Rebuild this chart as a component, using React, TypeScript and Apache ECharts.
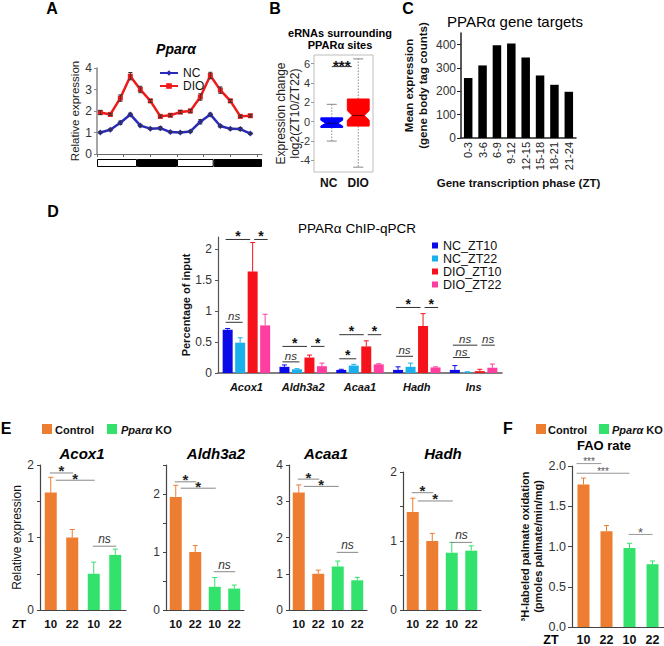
import React, { useEffect, useRef } from "react";
import * as echarts from "echarts";

const FONT = "'Liberation Sans', Arial, Helvetica, sans-serif";

// ---------------- Panel A : Pparα relative expression ----------------
const aHours = [1, 4, 7, 10, 13, 16, 19, 22, 25, 28, 31, 34, 37, 40, 43, 46];
const aNC = [1.0, 1.13, 1.45, 1.84, 1.32, 1.18, 1.2, 1.02, 1.0, 1.05, 1.5, 1.84, 1.3, 1.17, 1.16, 0.95];
const aNCErr = [0.03, 0.04, 0.08, 0.06, 0.05, 0.04, 0.07, 0.03, 0.03, 0.04, 0.1, 0.06, 0.05, 0.04, 0.07, 0.03];
const aDIO = [1.93, 1.84, 2.6, 3.62, 3.0, 2.47, 1.75, 1.8, 1.95, 2.0, 2.65, 3.65, 2.97, 2.47, 1.75, 1.78];
const aDIOErr = [0.1, 0.05, 0.15, 0.17, 0.15, 0.07, 0.06, 0.06, 0.07, 0.08, 0.15, 0.15, 0.15, 0.07, 0.05, 0.06];
const aXTicks = [0, 8, 16, 24, 32, 40, 48];
const aLightDark = [12, 12, 11, 14.5]; // light, dark, light, dark (hours)

// ---------------- Panel B : eRNA boxplots ----------------
const bCats = ["NC", "DIO"];
// [whisker low, Q1, median, Q3, whisker high]
const bNC = [-2.0, -0.6, -0.15, 0.4, 1.8];
const bDIO = [-4.7, -0.45, 0.65, 2.35, 6.5];
const bNotch = [0.3, 0.5];
const bTicks = [-4, -2, 0, 2, 4, 6];
const bSig = [{ from: 0, to: 1, y: 5.7, label: "***" }];

// ---------------- Panel C : PPARα gene targets ----------------
const cPhases = ["0-3", "3-6", "6-9", "9-12", "12-15", "15-18", "18-21", "21-24"];
const cMeans = [257, 311, 398, 405, 345, 268, 228, 198];
const cTicks = [0, 100, 200, 300, 400];

// ---------------- Panel D : ChIP-qPCR ----------------
const dGenes = ["Acox1", "Aldh3a2", "Acaa1", "Hadh", "Ins"];
const dGroups = ["NC_ZT10", "NC_ZT22", "DIO_ZT10", "DIO_ZT22"];
const dNC10 = [0.7, 0.1, 0.05, 0.05, 0.05];
const dNC10Err = [0.02, 0.03, 0.01, 0.05, 0.07];
const dNC22 = [0.49, 0.06, 0.12, 0.1, 0.01];
const dNC22Err = [0.08, 0.01, 0.02, 0.06, 0.01];
const dDIO10 = [1.64, 0.25, 0.43, 0.76, 0.03];
const dDIO10Err = [0.47, 0.04, 0.09, 0.2, 0.03];
const dDIO22 = [0.77, 0.11, 0.14, 0.09, 0.085];
const dDIO22Err = [0.18, 0.05, 0.01, 0.01, 0.06];
const dTicks = [0, 0.5, 1, 1.5, 2];
const dSig = [
  { gene: 0, from: 0, to: 2, y: 2.16, label: "*" },
  { gene: 0, from: 2, to: 3, y: 2.16, label: "*" },
  { gene: 0, from: 0, to: 1, y: 0.82, label: "ns" },
  { gene: 1, from: 0, to: 2, y: 0.43, label: "*" },
  { gene: 1, from: 2, to: 3, y: 0.43, label: "*" },
  { gene: 1, from: 0, to: 1, y: 0.18, label: "ns" },
  { gene: 2, from: 0, to: 2, y: 0.62, label: "*" },
  { gene: 2, from: 2, to: 3, y: 0.62, label: "*" },
  { gene: 2, from: 0, to: 1, y: 0.23, label: "*" },
  { gene: 3, from: 0, to: 2, y: 1.06, label: "*" },
  { gene: 3, from: 2, to: 3, y: 1.06, label: "*" },
  { gene: 3, from: 0, to: 1, y: 0.27, label: "ns" },
  { gene: 4, from: 0, to: 2, y: 0.45, label: "ns" },
  { gene: 4, from: 2, to: 3, y: 0.45, label: "ns" },
  { gene: 4, from: 0, to: 1, y: 0.25, label: "ns" },
];

// ---------------- Panel E : liver gene expression ----------------
const eZT = ["10", "22", "10", "22"];
const eGenotype = ["Control", "Control", "KO", "KO"];
const eGenes = ["Acox1", "Aldh3a2", "Acaa1", "Hadh"];
const eAcox1 = [1.62, 1.0, 0.5, 0.76];
const eAcox1Err = [0.21, 0.11, 0.16, 0.08];
const eAldh3a2 = [1.95, 1.0, 0.4, 0.37];
const eAldh3a2Err = [0.2, 0.11, 0.16, 0.06];
const eAcaa1 = [3.24, 1.0, 1.2, 0.82];
const eAcaa1Err = [0.21, 0.1, 0.15, 0.08];
const eHadh = [1.42, 1.0, 0.83, 0.86];
const eHadhErr = [0.2, 0.11, 0.15, 0.07];
const eAxisMax = [2, 2.5, 4, 2];
const eTickValues = [
  [0, 0.5, 1, 1.5, 2],
  [0, 0.5, 1, 1.5, 2, 2.5],
  [0, 1, 2, 3, 4],
  [0, 0.5, 1, 1.5, 2],
];
const eLabelValues = [
  [0, 1, 2],
  [0, 1, 2],
  [0, 1, 2, 3, 4],
  [0, 1, 2],
];
const eSig = [
  [
    { from: 0, to: 1, y: 1.89, label: "*" },
    { from: 0, to: 2, y: 1.79, label: "*" },
    { from: 2, to: 3, y: 0.88, label: "ns" },
  ],
  [
    { from: 0, to: 1, y: 2.21, label: "*" },
    { from: 0, to: 2, y: 2.1, label: "*" },
    { from: 2, to: 3, y: 0.66, label: "ns" },
  ],
  [
    { from: 0, to: 1, y: 3.61, label: "*" },
    { from: 0, to: 2, y: 3.41, label: "*" },
    { from: 2, to: 3, y: 1.59, label: "ns" },
  ],
  [
    { from: 0, to: 1, y: 1.7, label: "*" },
    { from: 0, to: 2, y: 1.58, label: "*" },
    { from: 2, to: 3, y: 0.98, label: "ns" },
  ],
];

// ---------------- Panel F : FAO rate ----------------
const fZT = ["10", "22", "10", "22"];
const fFAO = [1.77, 1.19, 0.98, 0.78];
const fFAOErr = [0.08, 0.07, 0.06, 0.04];
const fSig = [
  { from: 0, to: 1, y: 2.03, label: "***" },
  { from: 0, to: 2, y: 1.91, label: "***" },
  { from: 2, to: 3, y: 1.15, label: "*" },
];

// ---------------- styling ----------------
const ORANGE = "#ed7d31";
const GREEN = "#33e26c";
const D_COLORS = ["#0b0be8", "#1ab0ec", "#f5121b", "#ff3ea0"];
const A_BLUE = "#2b2bbb";
const A_RED = "#f01a1a";
const D_BAR_W = 10;
const D_GAP = 2.5;

const dSlotOffset = (slot: number) => {
  const n = 4;
  const group = n * D_BAR_W + (n - 1) * D_GAP;
  return -group / 2 + slot * (D_BAR_W + D_GAP) + D_BAR_W / 2;
};

function line(x1: number, y1: number, x2: number, y2: number, stroke: string, lineWidth = 1, lineDash?: number[]) {
  return {
    type: "line",
    shape: { x1, y1, x2, y2 },
    style: { stroke, lineWidth, lineDash },
  };
}

function sigText(label: string, x: number, y: number, cfg: any) {
  const isNs = label === "ns";
  return {
    type: "text",
    x,
    y: isNs ? y - cfg.nsDy : y - cfg.starDy,
    style: {
      text: label,
      fill: isNs ? cfg.nsColor : cfg.starColor,
      fontFamily: FONT,
      fontSize: isNs ? cfg.nsSize : label === "***" ? cfg.tripleSize : cfg.starSize,
      fontWeight: isNs ? "normal" : cfg.starWeight,
      fontStyle: isNs ? "italic" : "normal",
      align: "center",
      verticalAlign: "middle",
    },
  };
}

function errUpRender(color: string | ((i: number) => string), offsetFn?: (slot: number) => number) {
  return (params: any, api: any) => {
    const cat = api.value(0);
    const v = api.value(1);
    const e = api.value(2);
    const slot = api.value(3);
    const base = api.coord([cat, v]);
    const top = api.coord([cat, v + e]);
    const x = base[0] + (offsetFn ? offsetFn(slot) : 0);
    const c = typeof color === "function" ? color(params.dataIndex) : color;
    return {
      type: "group",
      children: [line(x, base[1], x, top[1], c, 1), line(x - 2.5, top[1], x + 2.5, top[1], c, 1)],
    };
  };
}

function errSymRender(color: string) {
  return (params: any, api: any) => {
    const x = api.value(0);
    const v = api.value(1);
    const e = api.value(2);
    const lo = api.coord([x, v - e]);
    const hi = api.coord([x, v + e]);
    return {
      type: "group",
      children: [
        line(lo[0], lo[1], hi[0], hi[1], color, 1),
        line(lo[0] - 2, lo[1], lo[0] + 2, lo[1], color, 1),
        line(hi[0] - 2, hi[1], hi[0] + 2, hi[1], color, 1),
      ],
    };
  };
}

function buildOption() {
  const grid: any[] = [
    { left: 97, top: 68, width: 165, height: 86 }, // 0 A
    { left: 97, top: 159, width: 165, height: 8 }, // 1 A light/dark
    { left: 314, top: 55, width: 59, height: 117, show: true, borderColor: "#bdbdbd", borderWidth: 1, backgroundColor: "rgba(0,0,0,0)" }, // 2 B
    { left: 461, top: 33, width: 115, height: 105 }, // 3 C
    { left: 218, top: 237, width: 284, height: 136 }, // 4 D
    { left: 40, top: 465, width: 86, height: 145 }, // 5 E1
    { left: 166, top: 465, width: 78, height: 145 }, // 6 E2
    { left: 289, top: 465, width: 78, height: 145 }, // 7 E3
    { left: 403, top: 472, width: 78, height: 138 }, // 8 E4
    { left: 572, top: 466, width: 92, height: 161 }, // 9 F
  ].map((g) => ({ ...g, containLabel: false, outerBoundsMode: "none" }));

  const tickLabel = { fontFamily: FONT, color: "#333" };

  const xAxis: any[] = [
    {
      gridIndex: 0, type: "value", min: 0, max: 49.5,
      axisLine: { lineStyle: { color: "#666", width: 1.2 } },
      axisTick: { show: true, customValues: aXTicks, length: 3, lineStyle: { color: "#666" } },
      axisLabel: { show: false }, splitLine: { show: false },
    },
    { gridIndex: 1, type: "value", min: 0, max: 49.5, show: false },
    {
      gridIndex: 2, type: "category", data: bCats,
      axisLine: { show: false }, axisTick: { show: false },
      axisLabel: { fontFamily: FONT, fontSize: 12, fontWeight: "bold", color: "#111", margin: 5 },
    },
    {
      gridIndex: 3, type: "category", data: cPhases,
      axisLine: { lineStyle: { color: "#222", width: 1.5 } }, axisTick: { show: false },
      axisLabel: { ...tickLabel, color: "#222", fontSize: 11, rotate: 90, margin: 4, interval: 0 },
      name: "Gene transcription phase (ZT)", nameLocation: "middle", nameGap: 39,
      nameTextStyle: { fontFamily: FONT, fontSize: 11.5, fontWeight: "bold", color: "#111" },
    },
    {
      gridIndex: 4, type: "category", data: dGenes,
      axisLine: { lineStyle: { color: "#555", width: 1.5 } }, axisTick: { show: false },
      axisLabel: { fontFamily: FONT, fontSize: 11, fontWeight: "bold", fontStyle: "italic", color: "#111", margin: 8 },
    },
  ];
  for (let k = 0; k < 4; k++) {
    xAxis.push({
      gridIndex: 5 + k, type: "category", data: eZT,
      axisLine: { lineStyle: { color: "#444", width: 1.2 } }, axisTick: { show: false },
      axisLabel: { fontFamily: FONT, fontSize: 11.5, fontWeight: "bold", color: "#111", margin: 8, interval: 0 },
    });
  }
  xAxis.push({
    gridIndex: 9, type: "category", data: fZT,
    axisLine: { lineStyle: { color: "#444", width: 1.2 } }, axisTick: { show: false },
    axisLabel: { fontFamily: FONT, fontSize: 12.5, fontWeight: "bold", color: "#111", margin: 6, interval: 0 },
  });

  const yAxis: any[] = [
    {
      gridIndex: 0, type: "value", min: 0, max: 4, interval: 1,
      axisLine: { show: true, lineStyle: { color: "#888", width: 1.5 } },
      axisTick: { show: true, length: 3, lineStyle: { color: "#888" } },
      axisLabel: { ...tickLabel, fontSize: 12, margin: 5 }, splitLine: { show: false },
      name: "Relative expression", nameLocation: "middle", nameGap: 14,
      nameTextStyle: { fontFamily: FONT, fontSize: 11.5, color: "#222" },
    },
    { gridIndex: 1, type: "category", data: ["LD"], show: false },
    {
      gridIndex: 2, type: "value", min: -5.2, max: 6.9,
      axisLine: { show: false },
      axisTick: { show: true, length: 3, customValues: bTicks, lineStyle: { color: "#999" } },
      axisLabel: { ...tickLabel, fontSize: 11, margin: 4, customValues: bTicks }, splitLine: { show: false },
      name: "Expression change\nlog2(ZT10/ZT22)", nameLocation: "middle", nameGap: 12.5, nameMoveOverlap: false,
      nameTextStyle: { fontFamily: FONT, fontSize: 12, lineHeight: 14, color: "#222" },
    },
    {
      gridIndex: 3, type: "value", min: 0, max: 450,
      axisLine: { show: true, lineStyle: { color: "#222", width: 1.5 } },
      axisTick: { show: true, length: 4, customValues: cTicks, lineStyle: { color: "#222" } },
      axisLabel: { ...tickLabel, fontSize: 12, margin: 5, customValues: cTicks }, splitLine: { show: false },
      name: "Mean expression\n(gene body tag counts)", nameLocation: "middle", nameGap: 31,
      nameTextStyle: { fontFamily: FONT, fontSize: 11.5, fontWeight: "bold", lineHeight: 14, color: "#111" },
    },
    {
      gridIndex: 4, type: "value", min: 0, max: 2.2,
      axisLine: { show: true, lineStyle: { color: "#555", width: 1.2 } },
      axisTick: { show: true, length: 3, customValues: dTicks, lineStyle: { color: "#555" } },
      axisLabel: { ...tickLabel, fontSize: 12, margin: 6, customValues: dTicks }, splitLine: { show: false },
      name: "Percentage of input", nameLocation: "middle", nameGap: 27,
      nameTextStyle: { fontFamily: FONT, fontSize: 11, fontWeight: "bold", color: "#111" },
    },
  ];
  for (let k = 0; k < 4; k++) {
    yAxis.push({
      gridIndex: 5 + k, type: "value", min: 0, max: eAxisMax[k],
      axisLine: { show: true, lineStyle: { color: "#444", width: 1.2 } },
      axisTick: { show: true, length: 3, customValues: eTickValues[k], lineStyle: { color: "#444" } },
      axisLabel: { ...tickLabel, fontSize: 12, margin: 6, customValues: eLabelValues[k] }, splitLine: { show: false },
      ...(k === 0
        ? {
            name: "Relative expression", nameLocation: "middle", nameGap: 17,
            nameTextStyle: { fontFamily: FONT, fontSize: 12, color: "#111" },
          }
        : {}),
    });
  }
  yAxis.push({
    gridIndex: 9, type: "value", min: 0, max: 2, interval: 0.5,
    axisLine: { show: true, lineStyle: { color: "#444", width: 1.2 } },
    axisTick: { show: true, length: 4, lineStyle: { color: "#444" } },
    axisLabel: { ...tickLabel, fontSize: 12.5, margin: 6, formatter: (v: number) => v.toFixed(1) }, splitLine: { show: false },
    name: "\u00B3H-labeled palmate oxidation\n(pmoles palmate/min/mg)", nameLocation: "middle", nameGap: 28, nameMoveOverlap: false,
    nameTextStyle: { fontFamily: FONT, fontSize: 11, fontWeight: "bold", lineHeight: 12.5, color: "#111" },
  });

  const series: any[] = [];

  // ---- A ----
  series.push({
    name: "NC", type: "line", xAxisIndex: 0, yAxisIndex: 0,
    data: aHours.map((h, i) => [h, aNC[i]]),
    symbol: "diamond", symbolSize: 6, color: A_BLUE,
    lineStyle: { width: 2.5, color: A_BLUE }, itemStyle: { color: A_BLUE }, z: 3,
  });
  series.push({
    name: "DIO", type: "line", xAxisIndex: 0, yAxisIndex: 0,
    data: aHours.map((h, i) => [h, aDIO[i]]),
    symbol: "rect", symbolSize: 5, color: A_RED,
    lineStyle: { width: 2.5, color: A_RED }, itemStyle: { color: A_RED }, z: 3,
  });
  series.push({
    name: "NC err", type: "custom", xAxisIndex: 0, yAxisIndex: 0, z: 4,
    data: aHours.map((h, i) => [h, aNC[i], aNCErr[i]]), encode: { x: 0, y: 1 },
    renderItem: errSymRender("#333"),
  });
  series.push({
    name: "DIO err", type: "custom", xAxisIndex: 0, yAxisIndex: 0, z: 4,
    data: aHours.map((h, i) => [h, aDIO[i], aDIOErr[i]]), encode: { x: 0, y: 1 },
    renderItem: errSymRender("#333"),
  });
  aLightDark.forEach((v, i) => {
    series.push({
      name: "LD" + i, type: "bar", stack: "ld", xAxisIndex: 1, yAxisIndex: 1,
      data: [v], barWidth: 8,
      itemStyle: { color: i % 2 === 0 ? "#fff" : "#000", borderColor: "#000", borderWidth: 1 },
    });
  });

  // ---- B ----
  const bBoxes = [bNC, bDIO];
  const bColors = ["#0000ff", "#ff0000"];
  const bMedColors = ["#000066", "#660000"];
  series.push({
    name: "eRNA box", type: "custom", xAxisIndex: 2, yAxisIndex: 2, z: 3,
    data: bBoxes.map((b, i) => [i, ...b, bNotch[i]]),
    encode: { x: 0, y: [1, 2, 3, 4, 5] },
    renderItem: (params: any, api: any) => {
      const i = params.dataIndex;
      const cat = api.value(0);
      const low = api.value(1), q1 = api.value(2), med = api.value(3), q3 = api.value(4), high = api.value(5), notch = api.value(6);
      const band = api.size([1, 0])[0];
      const hw = band * 0.37, nw = hw * 0.55, cw = band * 0.17;
      const c = (v: number) => api.coord([cat, v]);
      const x = c(med)[0] + (i === 0 ? 3 : 0);
      const yLow = c(low)[1], yQ1 = c(q1)[1], yMed = c(med)[1], yQ3 = c(q3)[1], yHigh = c(high)[1];
      const yNU = c(med + notch)[1], yNL = c(med - notch)[1];
      return {
        type: "group",
        children: [
          line(x, yQ3, x, yHigh, "#888", 1, [1.5, 1.5]),
          line(x, yQ1, x, yLow, "#888", 1, [1.5, 1.5]),
          line(x - cw, yHigh, x + cw, yHigh, "#888", 1),
          line(x - cw, yLow, x + cw, yLow, "#888", 1),
          {
            type: "polygon",
            shape: {
              points: [
                [x - hw, yQ3], [x + hw, yQ3], [x + hw, yNU], [x + nw, yMed], [x + hw, yNL],
                [x + hw, yQ1], [x - hw, yQ1], [x - hw, yNL], [x - nw, yMed], [x - hw, yNU],
              ],
            },
            style: { fill: bColors[i], stroke: bColors[i], lineWidth: 1 },
          },
          line(x - nw, yMed, x + nw, yMed, bMedColors[i], 1),
        ],
      };
    },
  });
  const bCfg = { starDy: 1.5, nsDy: 8, starColor: "#111", nsColor: "#333", starSize: 15, tripleSize: 15, nsSize: 12, starWeight: "bold" };
  series.push({
    name: "B sig", type: "custom", xAxisIndex: 2, yAxisIndex: 2, z: 5,
    data: bSig.map((s) => [s.from, s.y]), encode: { x: 0, y: 1 },
    renderItem: (params: any, api: any) => {
      const s = bSig[params.dataIndex];
      const y = api.coord([s.from, s.y])[1];
      const x1 = api.coord([s.from, s.y])[0] + 3;
      const x2 = api.coord([s.to, s.y])[0] - 6.5;
      return { type: "group", children: [line(x1, y, x2, y, "#333", 1), sigText(s.label, (x1 + x2) / 2, y, bCfg)] };
    },
  });

  // ---- C ----
  series.push({
    name: "Mean expression", type: "bar", xAxisIndex: 3, yAxisIndex: 3,
    data: cMeans, barWidth: 8.5, itemStyle: { color: "#000" },
  });

  // ---- D ----
  const dVals = [dNC10, dNC22, dDIO10, dDIO22];
  const dErrs = [dNC10Err, dNC22Err, dDIO10Err, dDIO22Err];
  dGroups.forEach((name, gi) => {
    series.push({
      name, type: "bar", xAxisIndex: 4, yAxisIndex: 4,
      data: dVals[gi], barWidth: D_BAR_W, barGap: "25%",
      itemStyle: { color: D_COLORS[gi] },
    });
  });
  dGroups.forEach((name, gi) => {
    series.push({
      name: name + " err", type: "custom", xAxisIndex: 4, yAxisIndex: 4, z: 4,
      data: dGenes.map((_, j) => [j, dVals[gi][j], dErrs[gi][j], gi]), encode: { x: 0, y: 1 },
      renderItem: errUpRender(D_COLORS[gi], dSlotOffset),
    });
  });
  const dCfg = { starDy: 3.5, nsDy: 6, starColor: "#111", nsColor: "#333", starSize: 14, tripleSize: 14, nsSize: 11.5, starWeight: "bold" };
  series.push({
    name: "D sig", type: "custom", xAxisIndex: 4, yAxisIndex: 4, z: 5,
    data: dSig.map((s) => [s.gene, s.y]), encode: { x: 0, y: 1 },
    renderItem: (params: any, api: any) => {
      const s = dSig[params.dataIndex];
      const p = api.coord([s.gene, s.y]);
      const x1 = p[0] + dSlotOffset(s.from) + (s.from === 0 ? -2 : 1.5);
      const x2 = p[0] + dSlotOffset(s.to) + (s.to === 2 ? -2.5 : 2.5);
      return { type: "group", children: [line(x1, p[1], x2, p[1], "#333", 1), sigText(s.label, (x1 + x2) / 2, p[1], dCfg)] };
    },
  });

  // ---- E ----
  const eVals = [eAcox1, eAldh3a2, eAcaa1, eHadh];
  const eErrs = [eAcox1Err, eAldh3a2Err, eAcaa1Err, eHadhErr];
  const eColor = (i: number) => (eGenotype[i] === "Control" ? ORANGE : GREEN);
  const eCfg = { starDy: 2, nsDy: 7, starColor: "#222", nsColor: "#333", starSize: 15, tripleSize: 13, nsSize: 12, starWeight: "bold" };
  for (let k = 0; k < 4; k++) {
    series.push({
      name: eGenes[k], type: "bar", xAxisIndex: 5 + k, yAxisIndex: 5 + k,
      data: eVals[k].map((v, i) => ({ value: v, itemStyle: { color: eColor(i) } })), barWidth: 12,
    });
    series.push({
      name: eGenes[k] + " err", type: "custom", xAxisIndex: 5 + k, yAxisIndex: 5 + k, z: 4,
      data: eVals[k].map((v, i) => [i, v, eErrs[k][i], 0]), encode: { x: 0, y: 1 },
      renderItem: errUpRender(eColor),
    });
    const list = eSig[k];
    series.push({
      name: eGenes[k] + " sig", type: "custom", xAxisIndex: 5 + k, yAxisIndex: 5 + k, z: 5,
      data: list.map((s) => [s.from, s.y]), encode: { x: 0, y: 1 },
      renderItem: (params: any, api: any) => {
        const s = list[params.dataIndex];
        const pa = api.coord([s.from, s.y]);
        const pb = api.coord([s.to, s.y]);
        const x1 = pa[0] + (s.to === 2 ? 5 : -1);
        const x2 = pb[0] + 1;
        return { type: "group", children: [line(x1, pa[1], x2, pa[1], "#888", 1), sigText(s.label, (x1 + x2) / 2, pa[1], eCfg)] };
      },
    });
  }

  // ---- F ----
  const fCfg = { starDy: 2, nsDy: 7, starColor: "#555", nsColor: "#555", starSize: 13, tripleSize: 10, nsSize: 12, starWeight: "normal" };
  series.push({
    name: "FAO rate", type: "bar", xAxisIndex: 9, yAxisIndex: 9,
    data: fFAO.map((v, i) => ({ value: v, itemStyle: { color: eColor(i) } })), barWidth: 12,
  });
  series.push({
    name: "FAO err", type: "custom", xAxisIndex: 9, yAxisIndex: 9, z: 4,
    data: fFAO.map((v, i) => [i, v, fFAOErr[i], 0]), encode: { x: 0, y: 1 },
    renderItem: errUpRender(eColor),
  });
  series.push({
    name: "FAO sig", type: "custom", xAxisIndex: 9, yAxisIndex: 9, z: 5,
    data: fSig.map((s) => [s.from, s.y]), encode: { x: 0, y: 1 },
    renderItem: (params: any, api: any) => {
      const s = fSig[params.dataIndex];
      const pa = api.coord([s.from, s.y]);
      const pb = api.coord([s.to, s.y]);
      const x1 = pa[0] + (s.from === 0 ? -7 : -1);
      const x2 = pb[0] + (s.to === 1 ? -5 : 0);
      return { type: "group", children: [line(x1, pa[1], x2, pa[1], "#999", 1), sigText(s.label, (x1 + x2) / 2, pa[1], fCfg)] };
    },
  });

  const txt = (text: string, x: number, y: number, size: number, weight = "normal", style = "normal", align = "center", color = "#000", rich?: any) => ({
    type: "text", x, y, z: 10,
    style: { text, fill: color, fontFamily: FONT, fontSize: size, fontWeight: weight, fontStyle: style, align, verticalAlign: "middle", rich },
  });
  const rect = (x: number, y: number, w: number, h: number, fill: string) => ({
    type: "rect", shape: { x, y, width: w, height: h }, style: { fill }, z: 10,
  });
  const koRich = { i: { fontStyle: "italic", fontWeight: "bold", fontFamily: FONT, fontSize: 11, fill: "#111" } };

  const graphic: any[] = [
    txt("A", 52, 8, 16, "bold"),
    txt("B", 275, 8, 16, "bold"),
    txt("C", 408, 8, 16, "bold"),
    txt("D", 53, 211, 16, "bold"),
    txt("E", 6, 428, 16, "bold"),
    txt("F", 508, 428, 16, "bold"),
    txt("Pparα", 176, 49, 14, "bold", "italic"),
    txt("eRNAs surrounding", 340, 33, 11, "bold"),
    txt("PPARα sites", 340, 45, 11, "bold"),
    txt("PPARα gene targets", 515, 21, 15),
    txt("PPARα ChIP-qPCR", 357, 228, 13.5),
    txt("Acox1", 82, 453, 15, "bold", "italic"),
    txt("Aldh3a2", 216, 453, 15, "bold", "italic"),
    txt("Acaa1", 326, 453, 15, "bold", "italic"),
    txt("Hadh", 443, 453, 15, "bold", "italic"),
    txt("ZT", 19, 624, 11.5, "bold"),
    txt("ZT", 551, 640, 12.5, "bold"),
    txt("FAO rate", 604, 445, 13, "bold"),
    rect(42, 424, 10, 10, ORANGE),
    txt("Control", 55, 429.5, 11, "bold", "normal", "left", "#111"),
    rect(107, 424, 10, 10, GREEN),
    txt("{i|Pparα} KO", 121, 429.5, 11, "bold", "normal", "left", "#111", koRich),
    rect(536, 424, 10, 10, ORANGE),
    txt("Control", 548, 429.5, 11, "bold", "normal", "left", "#111"),
    rect(599, 424, 10, 10, GREEN),
    txt("{i|Pparα} KO", 612, 429.5, 11, "bold", "normal", "left", "#111", koRich),
  ];

  return {
    animation: false,
    backgroundColor: "#fff",
    textStyle: { fontFamily: FONT },
    grid,
    xAxis,
    yAxis,
    legend: [
      {
        data: ["NC", "DIO"], orient: "vertical", left: 154, top: 62,
        itemWidth: 18, itemHeight: 7, itemGap: 1,
        textStyle: { fontFamily: FONT, fontSize: 12, color: "#111" },
      },
      {
        data: dGroups, orient: "vertical", left: 427, top: 234,
        icon: "rect", itemWidth: 6, itemHeight: 6, itemGap: 0,
        textStyle: { fontFamily: FONT, fontSize: 12.5, color: "#111" },
      },
    ],
    series,
    graphic,
  };
}

export default function App() {
  const ref = useRef<HTMLDivElement>(null);
  useEffect(() => {
    const chart = echarts.init(ref.current!, null, { renderer: "svg" });
    chart.setOption(buildOption() as any);
    return () => chart.dispose();
  }, []);
  return (
    <div
      ref={ref}
      style={{ position: "absolute", left: 0, top: 0, width: 664, height: 646, background: "#fff" }}
    />
  );
}
